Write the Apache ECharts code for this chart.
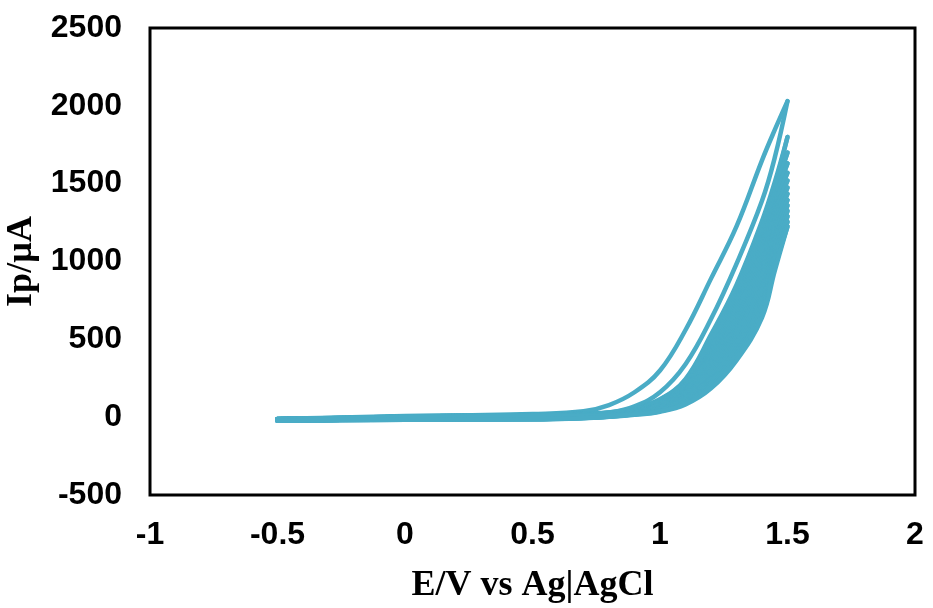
<!DOCTYPE html>
<html>
<head>
<meta charset="utf-8">
<title>Cyclic voltammogram</title>
<script src="https://cdn.jsdelivr.net/npm/echarts@6/dist/echarts.min.js"></script>
<style>
  html, body { margin: 0; padding: 0; background: #fff; }
  #chart { width: 933px; height: 608px; }
</style>
</head>
<body>
<div id="chart"></div>
<script>
// Potentials (V vs Ag|AgCl) at which every scan is sampled, ascending
const potential = [-0.5, -0.25, 0, 0.25, 0.5, 0.7, 0.8, 0.9, 1.0, 1.1, 1.2, 1.3, 1.4, 1.45, 1.5];

// Anodic (forward, -0.5 -> 1.5 V) scans, one row per cycle, current in µA
const anodicScans = [
  [-10, -2, 8, 12, 20, 38, 78, 160, 300, 560, 890, 1225, 1650, 1845, 2030],
  [-12, -5, 4, 8, 15, 24, 30, 57, 115, 245, 530, 850, 1260, 1510, 1800],
  [-12, -5, 4, 8, 14, 23, 28, 53, 109, 232, 502, 811, 1210, 1464, 1700],
  [-12, -6, 3, 7, 14, 22, 26, 49, 102, 219, 475, 772, 1161, 1419, 1630],
  [-12, -6, 3, 7, 13, 21, 24, 45, 96, 206, 447, 734, 1111, 1373, 1570],
  [-13, -6, 3, 7, 12, 20, 22, 42, 89, 193, 420, 695, 1062, 1328, 1520],
  [-13, -7, 3, 7, 12, 19, 20, 39, 83, 180, 392, 656, 1012, 1282, 1475],
  [-13, -7, 2, 6, 11, 16, 18, 36, 77, 167, 364, 617, 962, 1236, 1435],
  [-13, -7, 2, 6, 11, 15, 17, 33, 70, 154, 337, 578, 913, 1191, 1395],
  [-13, -8, 2, 6, 10, 14, 15, 29, 64, 141, 309, 540, 863, 1145, 1360],
  [-14, -8, 2, 6, 10, 13, 14, 26, 57, 128, 282, 501, 814, 1100, 1325],
  [-14, -8, 1, 6, 10, 12, 12, 23, 51, 115, 254, 462, 764, 1054, 1290],
  [-14, -8, 1, 5, 9, 10, 11, 20, 45, 102, 226, 423, 714, 1008, 1255],
  [-14, -8, 1, 5, 9, 8, 9, 17, 38, 89, 199, 384, 665, 963, 1225]
];

// Cathodic (reverse, 1.5 -> -0.5 V) scans, listed at the same ascending potentials
const cathodicScans = [
  [-20, -14, -10, -6, -2, 18, 30, 70, 160, 340, 630, 985, 1390, 1667, 2030],
  [-20, -15, -11, -8, -4, 14, 22, 53, 112, 238, 516, 831, 1235, 1487, 1800],
  [-20, -15, -12, -9, -5, 11, 19, 50, 105, 225, 489, 792, 1186, 1442, 1700],
  [-21, -16, -12, -9, -6, 8, 16, 47, 99, 212, 461, 753, 1136, 1396, 1630],
  [-21, -16, -13, -10, -7, 6, 14, 44, 93, 199, 433, 714, 1086, 1350, 1570],
  [-21, -16, -13, -10, -8, 4, 12, 41, 86, 186, 406, 675, 1037, 1305, 1520],
  [-21, -17, -14, -11, -9, 2, 10, 37, 80, 173, 378, 637, 987, 1259, 1475],
  [-22, -17, -14, -12, -10, 0, 8, 34, 73, 160, 351, 598, 938, 1214, 1435],
  [-22, -17, -15, -12, -11, -1, 7, 31, 67, 147, 323, 559, 888, 1168, 1395],
  [-22, -18, -15, -13, -12, -3, 6, 28, 61, 134, 295, 520, 838, 1122, 1360],
  [-22, -18, -16, -13, -12, -4, 5, 25, 54, 121, 268, 481, 789, 1077, 1325],
  [-23, -18, -16, -14, -13, -5, 4, 21, 48, 108, 240, 442, 739, 1031, 1290],
  [-23, -19, -17, -14, -13, -6, 3, 18, 41, 95, 213, 404, 690, 986, 1255],
  [-23, -19, -17, -15, -14, -7, 2, 15, 35, 82, 185, 365, 640, 940, 1225]
];

// Axis ranges and tick spacing
const xRange = { min: -1, max: 2, step: 0.5 };
const yRange = { min: -500, max: 2500, step: 500 };
const xTitle = 'E/V vs Ag|AgCl';
const yTitle = 'Ip/\u00b5A';

const traceColor = '#4aacc6';
const labelFont = '"Liberation Sans", Arial, sans-serif';
const titleFont = '"Liberation Serif", "Times New Roman", serif';

function scanSeries(currents, reverse) {
  const pts = potential.map((e, i) => [e, currents[i]]);
  if (reverse) pts.reverse();
  return {
    type: 'line',
    data: pts,
    showSymbol: false,
    symbol: 'none',
    smooth: 0.4,
    lineStyle: { color: traceColor, width: 4.5, cap: 'round', join: 'round' },
    emphasis: { disabled: true },
    silent: true
  };
}

const series = [];
for (let k = 0; k < anodicScans.length; k++) {
  series.push(scanSeries(anodicScans[k], false));
  series.push(scanSeries(cathodicScans[k], true));
}

// Plain numbers on the ticks, no thousands separators
const plainNumber = v => String(v);

const chart = echarts.init(document.getElementById('chart'), null, { renderer: 'canvas' });
chart.setOption({
  animation: false,
  backgroundColor: '#fff',
  grid: {
    left: 150, right: 18, top: 28, bottom: 113,
    outerBoundsMode: 'none',
    show: true, borderColor: '#000', borderWidth: 3, backgroundColor: 'transparent'
  },
  xAxis: {
    type: 'value',
    min: xRange.min, max: xRange.max, interval: xRange.step,
    axisLine: { show: false }, axisTick: { show: false }, splitLine: { show: false },
    axisLabel: { color: '#000', fontSize: 32, fontWeight: 'bold', fontFamily: labelFont, margin: 24, formatter: plainNumber },
    name: xTitle, nameLocation: 'middle', nameGap: 73,
    nameTextStyle: { color: '#000', fontSize: 36, fontWeight: 'bold', fontFamily: titleFont }
  },
  yAxis: {
    type: 'value',
    min: yRange.min, max: yRange.max, interval: yRange.step,
    axisLine: { show: false }, axisTick: { show: false }, splitLine: { show: false },
    axisLabel: { color: '#000', fontSize: 32, fontWeight: 'bold', fontFamily: labelFont, margin: 28, formatter: plainNumber },
    name: yTitle, nameLocation: 'middle', nameGap: 110, nameRotate: 90,
    nameTextStyle: { color: '#000', fontSize: 36, fontWeight: 'bold', fontFamily: titleFont }
  },
  series: series
});
</script>
</body>
</html>
